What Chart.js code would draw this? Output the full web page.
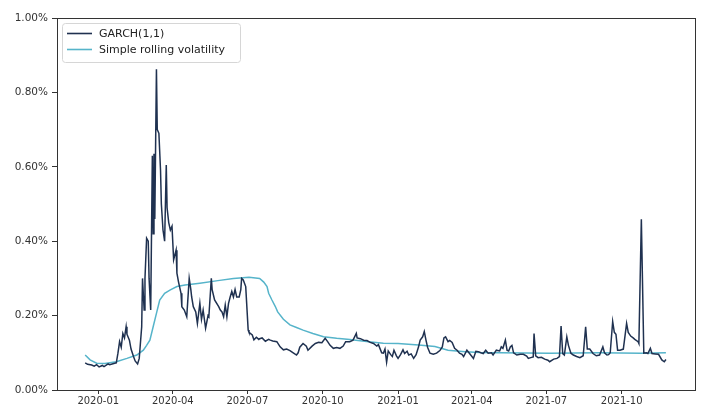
<!DOCTYPE html>
<html>
<head>
<meta charset="utf-8">
<script src="https://cdn.jsdelivr.net/npm/chart.js@4/dist/chart.umd.min.js"></script>
<style>
  html, body { margin: 0; padding: 0; background: #fff; }
  #c { display: block; }
</style>
</head>
<body>
<canvas id="c" width="701" height="408"></canvas>
<script>
// Daily conditional volatility estimate from a GARCH(1,1) fit (percent)
const garchDates = [
  '2019-12-16','2019-12-19','2019-12-24','2019-12-27','2019-12-30','2020-01-02','2020-01-06','2020-01-08','2020-01-13','2020-01-15',
  '2020-01-21','2020-01-23','2020-01-25','2020-01-27','2020-01-29','2020-01-31','2020-02-02','2020-02-04','2020-02-05','2020-02-08',
  '2020-02-10','2020-02-13','2020-02-15','2020-02-18','2020-02-20','2020-02-23','2020-02-24','2020-02-26','2020-02-27','2020-02-29',
  '2020-03-02','2020-03-03','2020-03-05','2020-03-07','2020-03-08','2020-03-09','2020-03-10','2020-03-12','2020-03-13','2020-03-15',
  '2020-03-17','2020-03-18','2020-03-20','2020-03-22','2020-03-24','2020-03-25','2020-03-27','2020-03-29','2020-03-31','2020-04-02',
  '2020-04-05','2020-04-06','2020-04-08','2020-04-11','2020-04-12','2020-04-15','2020-04-18','2020-04-21','2020-04-23','2020-04-24',
  '2020-04-26','2020-04-29','2020-05-01','2020-05-04','2020-05-06','2020-05-08','2020-05-11','2020-05-14','2020-05-15','2020-05-18',
  '2020-05-19','2020-05-22','2020-05-27','2020-05-29','2020-05-31','2020-06-02','2020-06-04','2020-06-06','2020-06-08','2020-06-10',
  '2020-06-12','2020-06-14','2020-06-16','2020-06-18','2020-06-21','2020-06-23','2020-06-24','2020-06-26','2020-06-29','2020-07-02',
  '2020-07-03','2020-07-07','2020-07-09','2020-07-12','2020-07-15','2020-07-16','2020-07-19','2020-07-23','2020-07-27','2020-07-29',
  '2020-08-01','2020-08-06','2020-08-10','2020-08-14','2020-08-18','2020-08-22','2020-08-26','2020-08-30','2020-09-01','2020-09-03',
  '2020-09-07','2020-09-11','2020-09-13','2020-09-18','2020-09-22','2020-09-26','2020-09-30','2020-10-04','2020-10-07','2020-10-10',
  '2020-10-14','2020-10-18','2020-10-22','2020-10-26','2020-10-29','2020-11-03','2020-11-07','2020-11-11','2020-11-12','2020-11-16',
  '2020-11-20','2020-11-24','2020-11-28','2020-12-02','2020-12-06','2020-12-08','2020-12-12','2020-12-14','2020-12-16','2020-12-18',
  '2020-12-20','2020-12-23','2020-12-25','2020-12-27','2020-12-30','2021-01-01','2021-01-04','2021-01-07','2021-01-09','2021-01-12',
  '2021-01-14','2021-01-17','2021-01-20','2021-01-23','2021-01-26','2021-01-28','2021-01-31','2021-02-02','2021-02-04','2021-02-06',
  '2021-02-09','2021-02-13','2021-02-17','2021-02-21','2021-02-24','2021-02-26','2021-02-28','2021-03-03','2021-03-05','2021-03-08',
  '2021-03-11','2021-03-14','2021-03-17','2021-03-20','2021-03-22','2021-03-26','2021-03-30','2021-04-03','2021-04-06','2021-04-09',
  '2021-04-12','2021-04-15','2021-04-18','2021-04-21','2021-04-25','2021-04-27','2021-05-01','2021-05-05','2021-05-07','2021-05-09',
  '2021-05-12','2021-05-14','2021-05-16','2021-05-18','2021-05-20','2021-05-22','2021-05-26','2021-05-30','2021-06-03','2021-06-07',
  '2021-06-09','2021-06-12','2021-06-15','2021-06-16','2021-06-18','2021-06-21','2021-06-25','2021-06-29','2021-07-03','2021-07-05',
  '2021-07-10','2021-07-14','2021-07-17','2021-07-19','2021-07-21','2021-07-23','2021-07-26','2021-07-28','2021-07-31','2021-08-03',
  '2021-08-07','2021-08-11','2021-08-15','2021-08-18','2021-08-20','2021-08-23','2021-08-27','2021-08-31','2021-09-04','2021-09-08',
  '2021-09-10','2021-09-13','2021-09-15','2021-09-17','2021-09-20','2021-09-22','2021-09-24','2021-09-26','2021-09-29','2021-10-03',
  '2021-10-07','2021-10-09','2021-10-12','2021-10-15','2021-10-17','2021-10-21','2021-10-22','2021-10-25','2021-10-28','2021-10-31',
  '2021-11-02','2021-11-05','2021-11-07','2021-11-11','2021-11-15','2021-11-19','2021-11-22','2021-11-24'
];
const garchVals = [
  0.073,0.069,0.067,0.064,0.068,0.062,0.066,0.063,0.070,0.068,
  0.072,0.073,0.099,0.130,0.115,0.152,0.140,0.170,0.150,0.134,
  0.110,0.090,0.078,0.070,0.085,0.170,0.300,0.215,0.300,0.408,
  0.400,0.300,0.215,0.630,0.420,0.635,0.460,0.862,0.700,0.690,
  0.590,0.500,0.430,0.400,0.605,0.490,0.450,0.430,0.440,0.350,
  0.376,0.314,0.290,0.260,0.224,0.215,0.197,0.300,0.270,0.250,
  0.224,0.210,0.179,0.233,0.190,0.215,0.166,0.200,0.197,0.300,
  0.270,0.242,0.224,0.215,0.210,0.197,0.228,0.197,0.233,0.250,
  0.265,0.250,0.270,0.250,0.250,0.270,0.300,0.296,0.278,0.161,
  0.155,0.148,0.135,0.142,0.136,0.138,0.140,0.131,0.136,0.134,
  0.132,0.130,0.116,0.108,0.110,0.106,0.100,0.094,0.100,0.115,
  0.125,0.118,0.107,0.118,0.125,0.128,0.127,0.139,0.130,0.120,
  0.112,0.114,0.112,0.118,0.130,0.130,0.134,0.152,0.140,0.138,
  0.134,0.133,0.128,0.125,0.118,0.122,0.100,0.099,0.110,0.075,
  0.105,0.095,0.090,0.107,0.092,0.085,0.095,0.108,0.098,0.104,
  0.094,0.097,0.085,0.095,0.116,0.134,0.143,0.157,0.135,0.115,
  0.099,0.096,0.099,0.106,0.116,0.140,0.143,0.130,0.133,0.128,
  0.112,0.107,0.099,0.096,0.090,0.107,0.096,0.085,0.104,0.103,
  0.100,0.098,0.107,0.099,0.100,0.094,0.107,0.105,0.116,0.112,
  0.134,0.107,0.105,0.116,0.120,0.100,0.094,0.096,0.096,0.091,
  0.085,0.087,0.089,0.152,0.092,0.087,0.088,0.083,0.080,0.076,
  0.083,0.085,0.090,0.172,0.098,0.094,0.143,0.120,0.099,0.094,
  0.090,0.087,0.092,0.170,0.110,0.110,0.098,0.092,0.094,0.116,
  0.100,0.094,0.095,0.100,0.184,0.155,0.150,0.107,0.107,0.110,
  0.179,0.155,0.145,0.140,0.136,0.130,0.125,0.459,0.099,0.100,
  0.098,0.112,0.098,0.097,0.096,0.081,0.076,0.082
];

// Simple rolling standard deviation of daily returns (percent)
const rollDates = [
  '2019-12-16','2019-12-22','2019-12-30','2020-01-09','2020-01-23','2020-02-05','2020-02-17','2020-02-25','2020-02-29','2020-03-04',
  '2020-03-08','2020-03-12','2020-03-16','2020-03-22','2020-03-29','2020-04-06','2020-04-16','2020-05-04','2020-05-26','2020-06-14',
  '2020-07-03','2020-07-16','2020-07-21','2020-07-25','2020-07-27','2020-07-31','2020-08-04','2020-08-07','2020-08-14','2020-08-22',
  '2020-08-30','2020-09-07','2020-09-19','2020-10-02','2020-10-18','2020-11-03','2020-11-26','2020-12-14','2021-01-01','2021-01-26',
  '2021-02-15','2021-03-03','2021-03-24','2021-04-11','2021-05-05','2021-07-05','2021-09-04','2021-10-24','2021-11-24'
];
const rollVals = [
  0.094,0.081,0.072,0.071,0.076,0.085,0.094,0.107,0.120,0.134,
  0.170,0.206,0.242,0.260,0.269,0.278,0.282,0.287,0.294,0.300,
  0.303,0.300,0.290,0.278,0.260,0.242,0.225,0.210,0.190,0.175,
  0.168,0.161,0.152,0.143,0.139,0.136,0.130,0.126,0.125,0.121,
  0.117,0.107,0.103,0.101,0.100,0.099,0.100,0.099,0.100
];

// Quarterly tick marks on the date axis
const tickDates = ['2020-01-01','2020-04-01','2020-07-01','2020-10-01','2021-01-01','2021-04-01','2021-07-01','2021-10-01'];
const tickLabels = ['2020-01','2020-04','2020-07','2020-10','2021-01','2021-04','2021-07','2021-10'];
const yTicks = [0, 0.2, 0.4, 0.6, 0.8, 1.0];

const seriesNames = ['GARCH(1,1)', 'Simple rolling volatility'];
const seriesColors = ['#1f3150', '#56b4ca'];

const EPOCH = Date.parse('2020-01-01');
const dayOf = s => (Date.parse(s) - EPOCH) / 864e5;
const toPoints = (ds, vs) => ds.map((d, i) => ({ x: dayOf(d), y: vs[i] }));
const tickDays = tickDates.map(dayOf);

const FONT = 'DejaVu Sans';
const INK = '#333';

// Closes the plot frame on the top and right sides
const frame = {
  id: 'frame',
  afterDatasetsDraw(chart) {
    const { ctx, chartArea: a } = chart;
    ctx.save();
    ctx.strokeStyle = INK;
    ctx.lineWidth = 1;
    ctx.strokeRect(Math.round(a.left) + 0.5, Math.round(a.top) + 0.5,
                   Math.round(a.right - a.left), Math.round(a.bottom - a.top));
    ctx.restore();
  }
};

// Boxed legend in the upper-left corner of the plot
const boxLegend = {
  id: 'boxLegend',
  afterDraw(chart) {
    const { ctx, chartArea: a } = chart;
    const x = a.left + 5, y = a.top + 5, w = 178, h = 39;
    ctx.save();
    ctx.beginPath();
    ctx.roundRect(x + 0.5, y + 0.5, w, h, 3);
    ctx.fillStyle = 'rgba(255,255,255,0.85)';
    ctx.fill();
    ctx.strokeStyle = '#d6d6d6';
    ctx.lineWidth = 1;
    ctx.stroke();
    ctx.font = '11px "' + FONT + '"';
    ctx.textBaseline = 'middle';
    chart.data.datasets.forEach((ds, i) => {
      const ly = y + 10.5 + i * 16;
      ctx.strokeStyle = ds.borderColor;
      ctx.lineWidth = 1.6;
      ctx.beginPath();
      ctx.moveTo(x + 5, ly);
      ctx.lineTo(x + 30, ly);
      ctx.stroke();
      ctx.fillStyle = '#222';
      ctx.fillText(ds.label, x + 37, ly + 0.5);
    });
    ctx.restore();
  }
};

new Chart(document.getElementById('c'), {
  type: 'line',
  data: {
    datasets: [
      { label: seriesNames[0], data: toPoints(garchDates, garchVals), borderColor: seriesColors[0], borderWidth: 1.5 },
      { label: seriesNames[1], data: toPoints(rollDates, rollVals), borderColor: seriesColors[1], borderWidth: 1.5 }
    ]
  },
  options: {
    responsive: false,
    animation: false,
    parsing: false,
    normalized: true,
    elements: { point: { radius: 0 }, line: { tension: 0, fill: false } },
    layout: { padding: { left: 0, right: 6, top: 18, bottom: 0 } },
    plugins: { legend: { display: false }, tooltip: { enabled: false } },
    scales: {
      x: {
        type: 'linear',
        min: -50.4,
        max: 728.5,
        afterFit(s) { s.height = 18; },
        afterBuildTicks(s) { s.ticks = tickDays.map(v => ({ value: v })); },
        grid: { display: true, drawOnChartArea: false, drawTicks: true, tickLength: 4, color: INK },
        border: { display: true, color: INK, width: 1 },
        ticks: {
          autoSkip: false, maxRotation: 0, padding: 1, color: INK,
          font: { family: FONT, size: 10 },
          callback(v) { const i = tickDays.indexOf(v); return i >= 0 ? tickLabels[i] : ''; }
        }
      },
      y: {
        min: 0,
        max: 1,
        afterFit(s) { s.width = 57; },
        afterBuildTicks(s) { s.ticks = yTicks.map(v => ({ value: v })); },
        grid: { display: true, drawOnChartArea: false, drawTicks: true, tickLength: 5, color: INK },
        border: { display: true, color: INK, width: 1 },
        ticks: {
          padding: 4, color: INK,
          font: { family: FONT, size: 10.5 },
          callback(v) { return v.toFixed(2) + '%'; }
        }
      }
    }
  },
  plugins: [frame, boxLegend]
});
</script>
</body>
</html>
